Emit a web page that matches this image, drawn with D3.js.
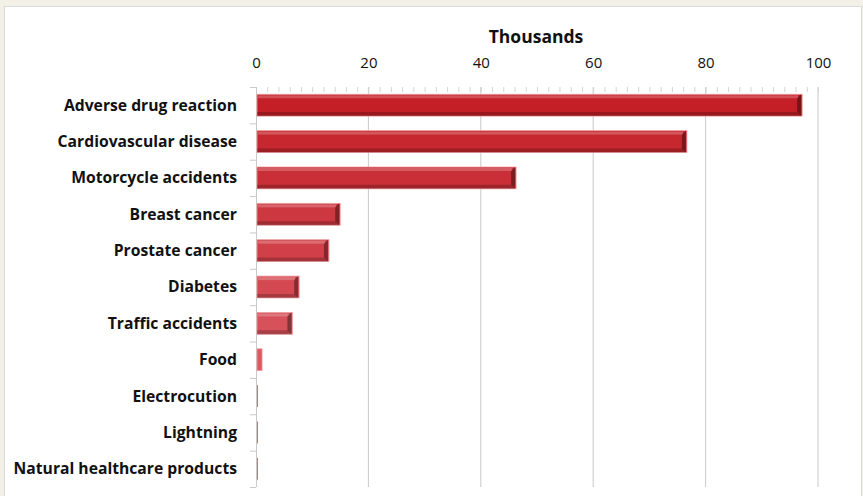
<!DOCTYPE html>
<html>
<head>
<meta charset="utf-8">
<script src="https://cdn.jsdelivr.net/npm/d3@7"></script>
<style>
  body { margin: 0; background: #f3f1e7; }
  svg { display: block; }
</style>
</head>
<body>
<div id="chart"></div>
<script>
// categories and values (thousands)
const categories = [
  "Adverse drug reaction", "Cardiovascular disease", "Motorcycle accidents",
  "Breast cancer", "Prostate cancer", "Diabetes", "Traffic accidents",
  "Food", "Electrocution", "Lightning", "Natural healthcare products"
];
const values = [97.0, 76.5, 46.1, 14.8, 12.8, 7.5, 6.3, 0.9, 0.08, 0.1, 0.1];
const tickValues = [0, 20, 40, 60, 80, 100];
const axisTitle = "Thousands";

const width = 863, height = 496;
const margin = { top: 87, right: 45, bottom: 9, left: 256 };
const font = "'Open Sans', Lato, sans-serif";

const svg = d3.select("#chart").append("svg")
    .attr("width", width)
    .attr("height", height);

// page background + white panel
svg.append("rect").attr("width", width).attr("height", height).attr("fill", "#f3f1e7");
svg.append("rect")
    .attr("x", 4.5).attr("y", 6.5)
    .attr("width", 857).attr("height", 500)
    .attr("fill", "#ffffff")
    .attr("stroke", "#d9d9d9");

const x = d3.scaleLinear().domain([0, 100]).range([margin.left, width - margin.right]);
const y = d3.scaleBand().domain(categories)
    .range([margin.top, height - margin.bottom])
    .paddingInner(0.4).paddingOuter(0.2);

const color = d3.scaleLinear().domain([0, 7]).range(["#c41e27", "#da5a62"]).clamp(true);

// gridlines
svg.append("g").selectAll("line")
    .data(tickValues.slice(1))
    .enter().append("line")
    .attr("x1", d => x(d)).attr("x2", d => x(d))
    .attr("y1", margin.top).attr("y2", height - margin.bottom)
    .attr("stroke", "#c9c9c9");

// minor ticks along top
svg.append("g").selectAll("line")
    .data(d3.range(0, 101, 2))
    .enter().append("line")
    .attr("x1", d => x(d) + 0.5).attr("x2", d => x(d) + 0.5)
    .attr("y1", margin.top).attr("y2", margin.top + 5)
    .attr("stroke", "#d4d4d4");

// top axis labels
const xAxis = svg.append("g")
    .attr("transform", `translate(0,${margin.top - 19})`)
    .call(d3.axisTop(x).tickValues(tickValues).tickSize(0).tickPadding(0));
xAxis.select(".domain").remove();
xAxis.selectAll("text")
    .attr("font-family", font)
    .attr("font-size", 15)
    .attr("fill", "#111");

svg.append("text")
    .attr("x", 536).attr("y", 43)
    .attr("text-anchor", "middle")
    .attr("font-family", font)
    .attr("font-weight", "bold")
    .attr("font-size", 17.5)
    .attr("fill", "#111")
    .text(axisTitle);

// left axis line and ticks
const step = y.step();
svg.append("line")
    .attr("x1", margin.left + 0.5).attr("x2", margin.left + 0.5)
    .attr("y1", margin.top).attr("y2", height - margin.bottom)
    .attr("stroke", "#c9c9c9");
svg.append("g").selectAll("line")
    .data(d3.range(categories.length + 1))
    .enter().append("line")
    .attr("x1", margin.left - 6).attr("x2", margin.left)
    .attr("y1", i => margin.top + i * step + 0.5)
    .attr("y2", i => margin.top + i * step + 0.5)
    .attr("stroke", "#c9c9c9");

// category labels
svg.append("g").selectAll("text")
    .data(categories)
    .enter().append("text")
    .attr("x", 237)
    .attr("y", d => y(d) + y.bandwidth() / 2)
    .attr("dy", "0.35em")
    .attr("text-anchor", "end")
    .attr("font-family", font)
    .attr("font-weight", "bold")
    .attr("font-size", 15.7)
    .attr("fill", "#111")
    .text(d => d);

// bars with bevel look
const bars = svg.append("g").selectAll("g")
    .data(categories.map((c, i) => ({ c, v: values[i], i })))
    .enter().append("g");

bars.append("rect")
    .attr("x", margin.left + 1)
    .attr("y", d => y(d.c))
    .attr("width", d => Math.max(0.8, x(d.v) - margin.left))
    .attr("height", y.bandwidth())
    .attr("fill", d => d.i < 8 ? color(d.i) : "#8a6a60")
    .attr("stroke", d => d.i < 8 ? "#ee9ea2" : "none")
    .attr("stroke-width", 0.8);

const big = bars.filter(d => x(d.v) - margin.left > 8);

// top highlight
big.append("rect")
    .attr("x", margin.left + 2)
    .attr("y", d => y(d.c) + 1)
    .attr("width", d => x(d.v) - margin.left - 5)
    .attr("height", 3)
    .attr("fill", "#ffffff").attr("fill-opacity", 0.22);

// bottom shade
big.append("path")
    .attr("d", d => {
        const x0 = margin.left + 1, x1 = x(d.v), yb = y(d.c) + y.bandwidth();
        return `M${x0},${yb - 4}L${x1 - 4},${yb - 4}L${x1},${yb}L${x0},${yb}Z`;
    })
    .attr("fill", "#000").attr("fill-opacity", 0.22);

// right edge shade
big.append("path")
    .attr("d", d => {
        const x1 = x(d.v), yt = y(d.c), yb = yt + y.bandwidth();
        return `M${x1 - 4},${yt + 4}L${x1},${yt}L${x1},${yb}L${x1 - 4},${yb - 4}Z`;
    })
    .attr("fill", "#000").attr("fill-opacity", 0.38);
</script>
</body>
</html>
